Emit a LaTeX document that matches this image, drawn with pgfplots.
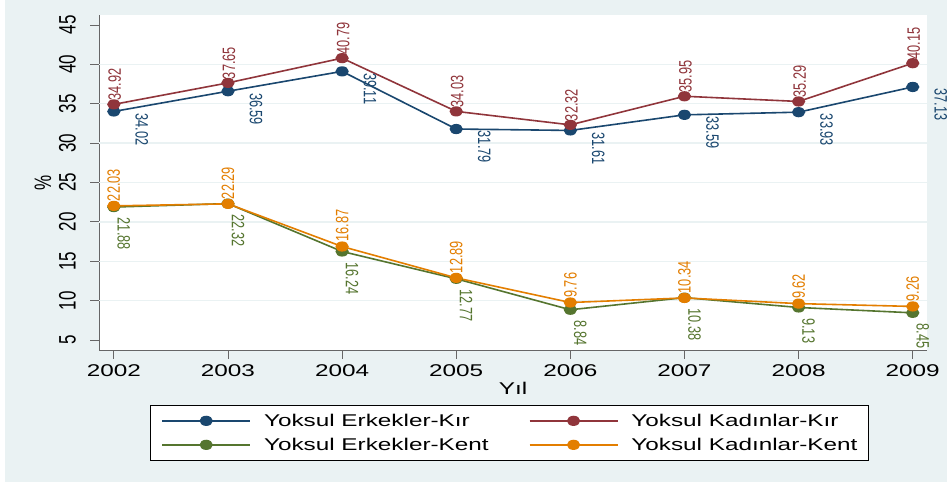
\documentclass[border=0pt]{standalone}
\usepackage{fontspec}
\setmainfont{Liberation Sans}[FakeStretch=1.43]
\newfontfamily\vfont{Liberation Sans}[FakeStretch=0.714]
\usepackage{pgfplots}
\pgfplotsset{compat=1.18}
\definecolor{sbg}{RGB}{234,242,243}
\definecolor{snavy}{RGB}{26,71,111}
\definecolor{smaroon}{RGB}{144,53,59}
\definecolor{sgreen}{RGB}{85,117,47}
\definecolor{sorange}{RGB}{227,126,0}
\begin{document}
\begin{tikzpicture}
\useasboundingbox (0,0) rectangle (947bp,483bp);
\fill[white] (0,0) rectangle (947bp,483bp);
\fill[sbg] (5bp,1bp) rectangle (947bp,483bp);
\begin{axis}[
  at={(99bp,133bp)}, anchor=south west,
  scale only axis, width=828bp, height=335bp,
  xmin=2001.87, xmax=2009.125,
  ymin=3.73, ymax=46.27,
  clip=false,
  axis background/.style={fill=white},
  axis lines=left,
  axis line style={-, color=black!60, line width=0.9bp},
  xtick={2002,2003,...,2009},
  ytick={5,10,...,45},
  extra y ticks={10,15,...,40},
  extra y tick labels={},
  extra y tick style={grid=major, major tick length=0pt},
  major grid style={color=sbg, line width=1.3bp},
  major tick length=9bp, tick align=outside,
  tick style={color=black!60, line width=0.9bp},
  xtick pos=left, ytick pos=left,
  /pgf/number format/assume math mode=true,
  xticklabel style={font=\fontsize{17bp}{20bp}\selectfont, /pgf/number format/1000 sep={}, yshift=-2bp},
  yticklabel style={font=\vfont\fontsize{23.8bp}{24bp}\selectfont, xshift=-14bp, rotate=90, anchor=south, inner sep=0pt},
  xlabel={Yıl},
  every axis x label/.style={at={(axis description cs:0.5,-0.113)}, anchor=center, font=\fontsize{17bp}{20bp}\selectfont},
  ylabel={\%},
  every axis y label/.style={at={(axis description cs:-0.0676,0.5)}, anchor=center, rotate=90, font=\vfont\fontsize{23.8bp}{24bp}\selectfont},
  legend columns=2,
  legend cell align=left,
  legend style={at={(axis description cs:0.0616,-0.164)}, anchor=north west,
    draw=black, line width=0.8bp, fill=white,
    font=\fontsize{17bp}{20bp}\selectfont,
    inner xsep=11bp, inner ysep=9.5bp, row sep=12bp,
    nodes={inner sep=0bp, text height=12bp, text depth=0bp},
    /tikz/every odd column/.append style={column sep=13bp},
    /tikz/every even column/.append style={column sep=40bp}},
  legend image code/.code={\draw[mark repeat=2,mark phase=2,#1] plot coordinates {(0bp,0bp) (44bp,0bp) (88bp,0bp)};},
  every axis plot/.append style={line width=1.6bp, mark=*, mark size=4.3bp},
  nodes near coords={\pgfmathprintnumber[fixed,fixed zerofill,precision=2]{\pgfplotspointmeta}},
]
\addplot[snavy, mark options={solid, xscale=1.35, fill=snavy},
  every node near coord/.style={font=\vfont\fontsize{17.9bp}{18bp}\selectfont, inner sep=0pt, text=snavy, xshift=28bp, yshift=-1bp, rotate=-90, anchor=west}]
  coordinates {(2002,34.02) (2003,36.59) (2004,39.11) (2005,31.79) (2006,31.61) (2007,33.59) (2008,33.93) (2009,37.13)};
\addlegendentry{Yoksul Erkekler-Kır}
\addplot[smaroon, mark options={solid, xscale=1.35, fill=smaroon},
  every node near coord/.style={font=\vfont\fontsize{17.9bp}{18bp}\selectfont, inner sep=0pt, text=smaroon, xshift=1bp, yshift=3bp, rotate=90, anchor=west}]
  coordinates {(2002,34.92) (2003,37.65) (2004,40.79) (2005,34.03) (2006,32.32) (2007,35.95) (2008,35.29) (2009,40.15)};
\addlegendentry{Yoksul Kadınlar-Kır}
\addplot[sgreen, mark options={solid, xscale=1.35, fill=sgreen},
  every node near coord/.style={font=\vfont\fontsize{17.9bp}{18bp}\selectfont, inner sep=0pt, text=sgreen, xshift=10bp, yshift=-10bp, rotate=-90, anchor=west}]
  coordinates {(2002,21.88) (2003,22.32) (2004,16.24) (2005,12.77) (2006,8.84) (2007,10.38) (2008,9.13) (2009,8.45)};
\addlegendentry{Yoksul Erkekler-Kent}
\addplot[sorange, mark options={solid, xscale=1.35, fill=sorange},
  every node near coord/.style={font=\vfont\fontsize{17.9bp}{18bp}\selectfont, inner sep=0pt, text=sorange, xshift=0bp, yshift=4bp, rotate=90, anchor=west}]
  coordinates {(2002,22.03) (2003,22.29) (2004,16.87) (2005,12.89) (2006,9.76) (2007,10.34) (2008,9.62) (2009,9.26)};
\addlegendentry{Yoksul Kadınlar-Kent}
\end{axis}
\end{tikzpicture}
\end{document}
